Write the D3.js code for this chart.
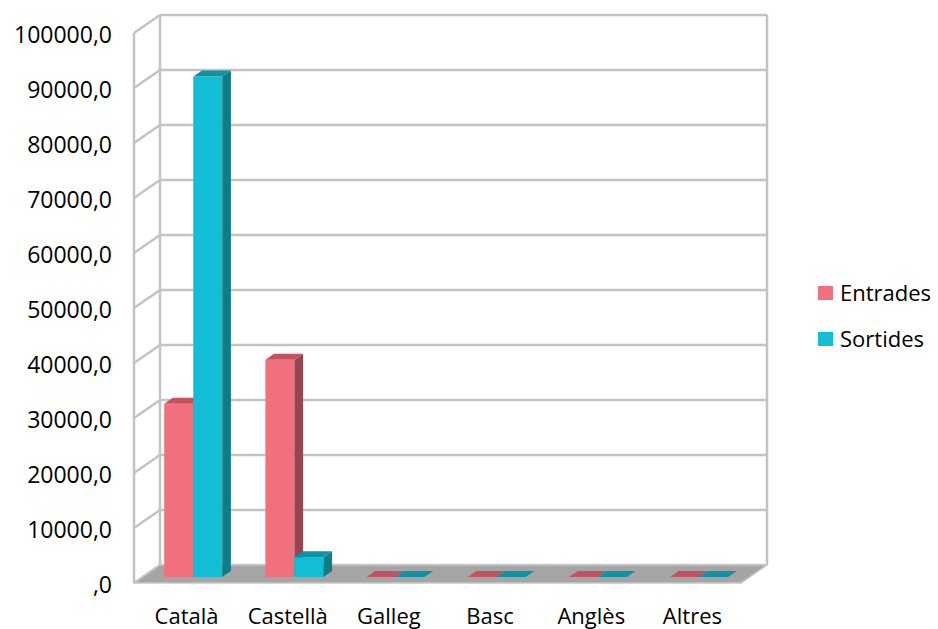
<!DOCTYPE html>
<html>
<head>
<meta charset="utf-8">
<script src="https://cdn.jsdelivr.net/npm/d3@7/dist/d3.min.js"></script>
<style>
  html, body { margin: 0; padding: 0; background: #ffffff; }
  svg { display: block; font-family: "Open Sans", "Noto Sans", sans-serif; }
</style>
</head>
<body>
<svg id="chart" width="938" height="629"></svg>
<script>
// Languages and series
const categories = ["Català", "Castellà", "Galleg", "Basc", "Anglès", "Altres"];
const seriesNames = ["Entrades", "Sortides"];
const entrades = [31500, 39500, 0, 0, 0, 0];
const sortides = [91000, 3600, 0, 0, 0, 0];
const yTicks = [0, 10000, 20000, 30000, 40000, 50000, 60000, 70000, 80000, 90000, 100000];
const yTickLabels = [",0", "10000,0", "20000,0", "30000,0", "40000,0", "50000,0",
                     "60000,0", "70000,0", "80000,0", "90000,0", "100000,0"];

const colors = {
  Entrades: { front: "#f2707e", top: "#c2525f", side: "#9a4450" },
  Sortides: { front: "#12bed5", top: "#0f93a4", side: "#0e7d88" }
};

const svg = d3.select("#chart");

// Plot box in the front plane, plus the oblique depth offset to the back wall
const plotLeft = 134, plotRight = 741, plotTop = 33, plotBottom = 583;
const depthX = 26, depthY = -18;
const off = f => [depthX * f, depthY * f];

const y = d3.scaleLinear().domain([0, 100000]).range([plotBottom, plotTop]);
const x0 = d3.scaleBand().domain(categories).range([plotLeft, plotRight]);
const groupW = 58;
const x1 = d3.scaleBand().domain(seriesNames).range([0, groupW]);

const gridColor = "#c3c3c3";

// Walls
const walls = svg.append("g");
const [bx, by] = off(1);
walls.append("polygon")
  .attr("points", [[plotLeft, plotTop], [plotLeft + bx, plotTop + by], [plotLeft + bx, plotBottom + by], [plotLeft, plotBottom]].join(" "))
  .attr("fill", "#ffffff");
walls.append("rect")
  .attr("x", plotLeft + bx).attr("y", plotTop + by)
  .attr("width", plotRight - plotLeft).attr("height", plotBottom - plotTop)
  .attr("fill", "#ffffff");

// Gridlines: left wall diagonal plus back wall horizontal
yTicks.forEach(t => {
  const yy = y(t);
  walls.append("line")
    .attr("x1", plotLeft).attr("y1", yy).attr("x2", plotLeft + bx).attr("y2", yy + by)
    .attr("stroke", gridColor).attr("stroke-width", 2.5);
  walls.append("line")
    .attr("x1", plotLeft + bx).attr("y1", yy + by).attr("x2", plotRight + bx).attr("y2", yy + by)
    .attr("stroke", gridColor).attr("stroke-width", 2.5);
});
// Wall edges
[[plotLeft, 0], [plotLeft + bx, by], [plotRight + bx, by]].forEach(([ex, ey]) => {
  walls.append("line")
    .attr("x1", ex).attr("y1", plotTop + ey).attr("x2", ex).attr("y2", plotBottom + ey)
    .attr("stroke", gridColor).attr("stroke-width", 2.5);
});

// Floor
svg.append("polygon")
  .attr("points", [[plotLeft, plotBottom], [plotRight, plotBottom], [plotRight + bx, plotBottom + by], [plotLeft + bx, plotBottom + by]].join(" "))
  .attr("fill", "#a5a5a5")
  .attr("stroke", "#c6c6c6").attr("stroke-width", 1.5).attr("stroke-linejoin", "round");

// Bars sit in the middle third of the depth
const [fx, fy] = off(1 / 3);
const [dx, dy] = off(1 / 3);
const barsG = svg.append("g");
categories.forEach((c, i) => {
  const vals = { Entrades: entrades[i], Sortides: sortides[i] };
  seriesNames.forEach(s => {
    const col = colors[s];
    const xl = x0(c) + (x0.bandwidth() - groupW) / 2 + x1(s) + fx;
    const w = x1.bandwidth();
    const yt = y(vals[s]) + fy;
    const yb = y(0) + fy;
    const g = barsG.append("g");
    // front face
    g.append("rect").attr("x", xl).attr("y", yt).attr("width", w).attr("height", yb - yt)
      .attr("fill", col.front);
    // right side
    g.append("polygon")
      .attr("points", [[xl + w, yt], [xl + w + dx, yt + dy], [xl + w + dx, yb + dy], [xl + w, yb]].join(" "))
      .attr("fill", col.side);
    // top face
    g.append("polygon")
      .attr("points", [[xl, yt], [xl + w, yt], [xl + w + dx, yt + dy], [xl + dx, yt + dy]].join(" "))
      .attr("fill", col.top);
  });
});

// Value axis labels
const yAxis = d3.axisLeft(y)
  .tickValues(yTicks)
  .tickFormat((d, i) => yTickLabels[i])
  .tickSize(0)
  .tickPadding(22);
const ya = svg.append("g").attr("transform", `translate(${plotLeft},2)`).call(yAxis);
ya.select(".domain").remove();
ya.selectAll("text").attr("font-size", 23).attr("fill", "#000").attr("font-family", "'Open Sans', sans-serif");

// Category labels
svg.append("g").selectAll("text").data(categories).join("text")
  .attr("x", d => x0(d) + x0.bandwidth() / 2 + 2)
  .attr("y", 624)
  .attr("text-anchor", "middle")
  .attr("font-size", 22)
  .attr("fill", "#000")
  .text(d => d);

// Legend
const legend = svg.append("g");
seriesNames.forEach((s, i) => {
  const ly = 293 + i * 46;
  legend.append("rect").attr("x", 818).attr("y", ly - 7).attr("width", 15).attr("height", 14)
    .attr("fill", colors[s].front);
  legend.append("text").attr("x", 840).attr("y", ly + 8)
    .attr("font-size", 22).attr("fill", "#000").text(s);
});
</script>
</body>
</html>
